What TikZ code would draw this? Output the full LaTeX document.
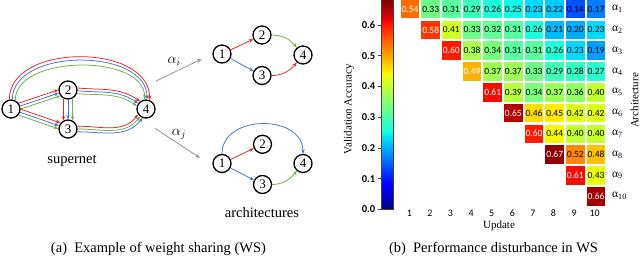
\documentclass[tikz,border=0pt]{standalone}
\usepackage{fontspec}
\setmainfont{Liberation Serif}
\newfontfamily\cellfont{Carlito}
\usetikzlibrary{arrows.meta}
\definecolor{ered}{RGB}{236,32,36}
\definecolor{eblue}{RGB}{68,114,196}
\definecolor{egreen}{RGB}{112,173,71}
\definecolor{mapgray}{RGB}{150,150,150}
\newcommand\setjet[1]{%
  \pgfmathsetmacro\jx{(#1)/0.68}%
  \pgfmathsetmacro\jr{max(0,min(1,(\jx-0.35)/0.31,1-(\jx-0.89)/0.22))}%
  \pgfmathsetmacro\jg{max(0,min(1,(\jx-0.125)/0.25,1-(\jx-0.64)/0.27))}%
  \pgfmathsetmacro\jb{max(0,min(1,0.5+\jx/0.22,1-(\jx-0.34)/0.31))}%
  \definecolor{jetc}{rgb}{\jr,\jg,\jb}}
\begin{document}
\begin{tikzpicture}[x=1pt,y=-1pt,
  vtx/.style={circle,draw=black,line width=1.3pt,fill=white,minimum size=18pt,inner sep=0pt,font=\fontsize{13}{14}\selectfont},
  wire/.style={line width=0.75pt,-{Stealth[length=4.5pt,width=3.4pt]}},
  mapar/.style={line width=0.8pt,draw=mapgray,-{Stealth[length=5pt,width=4pt]}},
  lbl/.style={font=\fontsize{14.5}{16}\selectfont,inner sep=0pt},
  cellnum/.style={font=\cellfont\fontsize{9.5}{10}\selectfont,inner sep=0pt},
  ticknum/.style={font=\cellfont\fontsize{10}{11}\selectfont,inner sep=0pt},
  cbnum/.style={font=\cellfont\bfseries\fontsize{10.5}{11}\selectfont,inner sep=0pt},
  axlbl/.style={font=\fontsize{11}{12}\selectfont,inner sep=0pt},
  alab/.style={font=\fontsize{11.5}{12}\selectfont,inner sep=0pt,anchor=west}]
\fill[white] (0,0) rectangle (640,257);
\useasboundingbox (0,0) rectangle (640,257);

% ---------------- supernet ----------------
\node[vtx] (s1) at (11,109) {1};
\node[vtx] (s2) at (68,90) {2};
\node[vtx] (s3) at (68,129) {3};
\node[vtx] (s4) at (146,109) {4};
\node[lbl,anchor=base] (supl) at (72,163) {supernet};

\foreach \c/\d in {ered/19,eblue/0,egreen/-19}{
  \pgfmathsetmacro\aa{18.4+\d}\pgfmathsetmacro\ab{198.4-\d}
  \draw[wire,\c] (s1.\aa) -- (s2.\ab);}
\foreach \c/\d in {ered/19,eblue/0,egreen/-19}{
  \pgfmathsetmacro\aa{340.7+\d}\pgfmathsetmacro\ab{160.7-\d}
  \draw[wire,\c] (s1.\aa) -- (s3.\ab);}
\foreach \c/\d in {ered/-28,eblue/0,egreen/28}{
  \pgfmathsetmacro\aa{270+\d}\pgfmathsetmacro\ab{90-\d}
  \draw[wire,\c] (s2.\aa) -- (s3.\ab);}
\foreach \c/\d in {ered/17,eblue/0,egreen/-17}{
  \pgfmathsetmacro\aa{355+\d}\pgfmathsetmacro\ab{145-\d}
  \draw[wire,\c] (s2.\aa) to[out=-5,in=145] (s4.\ab);}
\foreach \c/\d in {ered/17,egreen/0,eblue/-17}{
  \pgfmathsetmacro\aa{360+\d}\pgfmathsetmacro\ab{232-\d}
  \draw[wire,\c] (s3.\aa) to[out=0,in=232] (s4.\ab);}
\draw[wire,ered] (s1.100) to[out=90,in=90,distance=57] (s4.68);
\draw[wire,eblue] (s1.82) to[out=90,in=90,distance=52] (s4.84);
\draw[wire,egreen] (s1.64) to[out=90,in=90,distance=46] (s4.98);

% ---------------- mapping arrows ----------------
\coordinate (mi0) at (156,81);
\coordinate (mi1) at (201.7,59);
\coordinate (mj0) at (155,128.3);
\coordinate (mj1) at (200,158);
\draw[mapar] (mi0) -- (mi1);
\draw[mapar] (mj0) -- (mj1);
\node[font=\fontsize{14}{15}\selectfont,inner sep=0pt] (ali) at (174,61) {$\alpha_i$};
\node[font=\fontsize{14}{15}\selectfont,inner sep=0pt] (alj) at (179,134) {$\alpha_j$};

% ---------------- architecture i ----------------
\node[vtx] (a1) at (222,54) {1};
\node[vtx] (a2) at (262,35) {2};
\node[vtx] (a3) at (262,75.5) {3};
\node[vtx] (a4) at (303,55) {4};
\draw[wire,ered] (a1) -- (a2);
\draw[wire,eblue] (a1) -- (a3);
\draw[wire,egreen] (a2) to[out=0,in=130] (a4);
\draw[wire,ered] (a3) to[out=0,in=230] (a4);

% ---------------- architecture j ----------------
\node[vtx] (b1) at (222,163.5) {1};
\node[vtx] (b2) at (262.5,144.3) {2};
\node[vtx] (b3) at (262.5,184.5) {3};
\node[vtx] (b4) at (303,163.5) {4};
\draw[wire,eblue] (b1) to[out=90,in=90,distance=40] (b4);
\draw[wire,ered] (b1) -- (b2);
\draw[wire,eblue] (b1) -- (b3);
\draw[wire,egreen] (b3) to[out=0,in=230] (b4);
\node[lbl,anchor=base] (archl) at (262,217) {architectures};

% ---------------- captions ----------------
\node[lbl,anchor=base] (capa) at (158.5,252.3) {(a)\hspace{0.5em}Example of weight sharing (WS)};
\node[lbl,anchor=base] (capb) at (493.5,252.3) {(b)\hspace{0.5em}Performance disturbance in WS};

% ---------------- heatmap ----------------
\foreach \row [count=\i] in {%
  {0.54,0.33,0.31,0.29,0.26,0.25,0.23,0.22,0.14,0.17},%
  {0.58,0.41,0.33,0.32,0.31,0.26,0.21,0.20,0.23},%
  {0.60,0.38,0.34,0.31,0.31,0.26,0.23,0.19},%
  {0.49,0.37,0.37,0.33,0.29,0.28,0.27},%
  {0.61,0.39,0.34,0.37,0.36,0.40},%
  {0.65,0.46,0.45,0.42,0.42},%
  {0.60,0.44,0.40,0.40},%
  {0.67,0.52,0.48},%
  {0.61,0.43},%
  {0.66}}{%
  \foreach \v [count=\k] in \row {%
    \pgfmathtruncatemacro\j{\i+\k-1}%
    \pgfmathsetmacro\cx{410+(\j-1)*20.67}%
    \pgfmathsetmacro\cy{9+(\i-1)*20.8}%
    \setjet{\v}%
    \fill[jetc] (\cx-9.25,\cy-9.3) rectangle (\cx+9.25,\cy+9.3);
    \ifnum\k=1 \def\tc{white}\else\def\tc{black}\fi
    \node[cellnum,text=\tc] (c\i-\j) at (\cx,\cy) {\v};
  }}

% row labels
\foreach \n in {1,...,10}{
  \pgfmathsetmacro\ry{9+(\n-1)*20.8}
  \node[alab] (r\n) at (612,\ry) {α\textsubscript{\n}};}
\node[axlbl,rotate=90] (archax) at (634.5,100.5) {Architecture};

% update ticks
\foreach \n in {1,...,10}{
  \pgfmathsetmacro\ux{409.3+(\n-1)*20.6}
  \node[ticknum] (u\n) at (\ux,213) {\n};}
\node[axlbl] (updl) at (499,226) {Update};

% colorbar
\foreach \t in {0,...,104}{
  \pgfmathsetmacro\vv{(\t+0.5)*2/307.6}
  \setjet{\vv}
  \fill[jetc] (381,{209.5-2*\t+0.3}) rectangle (393,{209.5-2*\t-2.3});}
\draw[line width=0.6pt,black!75] (381,-1) rectangle (393,209.5);
\foreach \lab [count=\n from 0] in {0.0,0.1,0.2,0.3,0.4,0.5,0.6}{
  \pgfmathsetmacro\ty{209.5-\n*30.76}
  \draw[line width=0.6pt,black!75] (381,\ty) -- (377.5,\ty);
  \node[cbnum,anchor=east] (cb\n) at (375.5,\ty) {\lab};}
\node[axlbl,rotate=90] (vacc) at (349,109) {Validation Accuracy};
\end{tikzpicture}
\end{document}
